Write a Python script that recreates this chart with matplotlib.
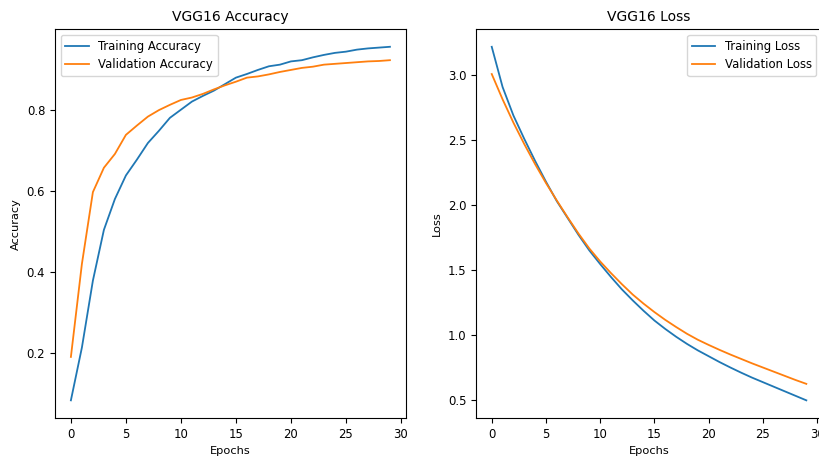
import matplotlib
matplotlib.use("Agg")
import matplotlib.pyplot as plt
import numpy as np

# values
epochs = np.arange(30)

train_acc = [0.084, 0.214, 0.379, 0.504, 0.580, 0.638, 0.677, 0.718, 0.748, 0.780,
             0.800, 0.820, 0.834, 0.847, 0.863, 0.879, 0.888, 0.898, 0.907, 0.911,
             0.919, 0.922, 0.929, 0.935, 0.940, 0.943, 0.948, 0.951, 0.953, 0.955]
val_acc = [0.191, 0.420, 0.597, 0.657, 0.691, 0.738, 0.761, 0.783, 0.799, 0.812,
           0.824, 0.830, 0.839, 0.850, 0.860, 0.869, 0.879, 0.882, 0.887, 0.893,
           0.898, 0.903, 0.906, 0.911, 0.913, 0.915, 0.917, 0.919, 0.920, 0.922]

train_loss = [3.22, 2.91, 2.69, 2.51, 2.34, 2.18, 2.03, 1.90, 1.77, 1.65,
              1.545, 1.445, 1.35, 1.265, 1.185, 1.11, 1.045, 0.985, 0.93, 0.88,
              0.835, 0.79, 0.748, 0.708, 0.67, 0.635, 0.60, 0.565, 0.53, 0.495]
val_loss = [3.01, 2.815, 2.635, 2.47, 2.315, 2.17, 2.035, 1.905, 1.78, 1.665,
            1.565, 1.475, 1.39, 1.31, 1.24, 1.175, 1.115, 1.06, 1.008, 0.962,
            0.922, 0.884, 0.848, 0.814, 0.78, 0.748, 0.716, 0.684, 0.652, 0.622]

fig = plt.figure(figsize=(8.2, 4.57), dpi=100)

# left panel
ax1 = fig.add_axes([0.067, 0.0853, 0.428, 0.851])
ax1.plot(epochs, train_acc, label='Training Accuracy', linewidth=1.3)
ax1.plot(epochs, val_acc, label='Validation Accuracy', linewidth=1.3)
ax1.set_title('VGG16 Accuracy', fontsize=10)
ax1.set_xlabel('Epochs', fontsize=8.2)
ax1.set_ylabel('Accuracy', fontsize=8.2)
ax1.set_xticks([0, 5, 10, 15, 20, 25, 30])
ax1.tick_params(labelsize=8.4)
ax1.legend(loc='upper left', fontsize=8.4)

# right panel (cut off at the right edge like the reference)
ax2 = fig.add_axes([0.5805, 0.0853, 0.422, 0.851])
ax2.plot(epochs, train_loss, label='Training Loss', linewidth=1.3)
ax2.plot(epochs, val_loss, label='Validation Loss', linewidth=1.3)
ax2.set_title('VGG16 Loss', fontsize=10)
ax2.set_xlabel('Epochs', fontsize=8.2)
ax2.set_ylabel('Loss', fontsize=8.2)
ax2.set_xticks([0, 5, 10, 15, 20, 25, 30])
ax2.tick_params(labelsize=8.4)
ax2.legend(loc='upper right', fontsize=8.4)

fig.savefig('out.png', dpi=100)
